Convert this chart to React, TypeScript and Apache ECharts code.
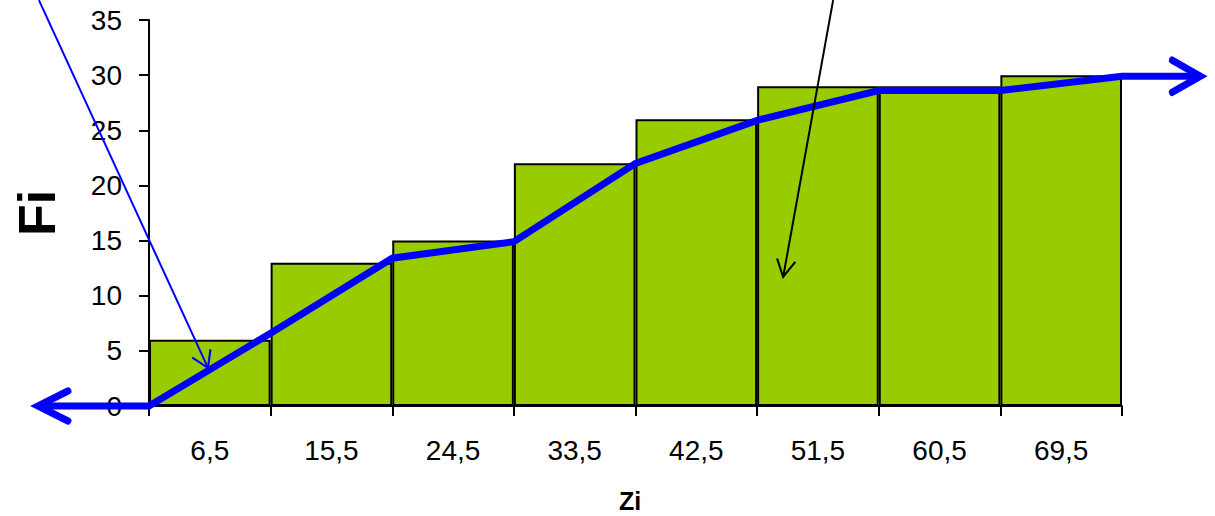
import React, { useEffect, useRef } from 'react';
import * as echarts from 'echarts';

// Class marks (x axis categories)
const categories = ['6,5', '15,5', '24,5', '33,5', '42,5', '51,5', '60,5', '69,5'];
// Cumulative absolute frequencies Fi (bars)
const frequencies = [6, 13, 15, 22, 26, 29, 29, 30];
// Ogive: positions of class boundaries (in class units) and cumulative values at them
const boundaryPositions = [0, 1, 2, 3, 4, 5, 6, 7, 8];
const ogiveValues = [0, 6.6, 13.4, 14.9, 22, 25.9, 28.6, 28.6, 29.9];
// Arrow extensions of the ogive (class units, Fi)
const leftArrowTip = [-0.913, 0];
const rightArrowTip = [8.643, 29.9];
// Annotation arrows (start, tip) in (class units, Fi)
const blueNote = [[-0.905, 36.8], [0.485, 3.45]];
const blackNote = [[5.625, 36.8], [5.214, 11.7]];
// Y axis ticks
const yMin = 0;
const yMax = 35;
const yStep = 5;

const CHEV_R = 'path://M0,0L10,10L0,20';
const CHEV_L = 'path://M10,0L0,10L10,20';

// layout
const W = 1215;
const H = 516;
const G_LEFT = 149;
const G_RIGHT = 93;
const G_TOP = 20;
const G_BOTTOM = 110;

export default function App() {
  const ref = useRef<HTMLDivElement>(null);
  useEffect(() => {
    if (!ref.current) return;
    const chart = echarts.init(ref.current, undefined, { renderer: 'svg' });
    const font = 'Arial, "Liberation Sans", sans-serif';

    // overlay grid spanning the whole canvas, with scales matching the main grid
    const pxPerClass = (W - G_LEFT - G_RIGHT) / categories.length;
    const pxPerUnit = (H - G_TOP - G_BOTTOM) / (yMax - yMin);
    const ovXMin = -G_LEFT / pxPerClass;
    const ovXMax = (W - G_LEFT) / pxPerClass;
    const ovYMax = yMin + (H - G_BOTTOM) / pxPerUnit;

    const ogiveData: any[] = [
      {
        value: leftArrowTip,
        symbol: CHEV_L,
        symbolSize: [30, 30],
        symbolOffset: [15, 0],
      },
      ...boundaryPositions.map((x, i) => ({ value: [x, ogiveValues[i]], symbol: 'none' })),
      {
        value: rightArrowTip,
        symbol: CHEV_R,
        symbolSize: [28, 32],
        symbolOffset: [-14, 0],
      },
    ];

    const blueData: any[] = [
      { value: blueNote[0], symbol: 'none' },
      {
        value: blueNote[1],
        symbol: CHEV_R,
        symbolSize: [16, 20],
        symbolRotate: -65.4,
        symbolOffset: [-3.3, -7.3],
      },
    ];
    const blackData: any[] = [
      { value: blackNote[0], symbol: 'none' },
      {
        value: blackNote[1],
        symbol: CHEV_R,
        symbolSize: [17, 18.5],
        symbolRotate: -100.2,
        symbolOffset: [1.5, -8.4],
      },
    ];

    chart.setOption({
      animation: false,
      backgroundColor: '#ffffff',
      grid: [
        {
          left: G_LEFT,
          right: G_RIGHT,
          top: G_TOP,
          bottom: G_BOTTOM,
          containLabel: false,
          outerBoundsMode: 'none',
        },
        {
          left: 0,
          right: 0,
          top: 0,
          bottom: G_BOTTOM,
          containLabel: false,
          outerBoundsMode: 'none',
        },
      ],
      xAxis: [
        {
          type: 'category',
          gridIndex: 0,
          data: categories,
          boundaryGap: true,
          axisLine: { show: true, lineStyle: { color: '#000', width: 2 } },
          axisTick: { show: true, length: 10, lineStyle: { color: '#000', width: 2 } },
          axisLabel: { color: '#000', fontSize: 28, fontFamily: font, margin: 30 },
          splitLine: { show: false },
          name: 'Zi',
          nameLocation: 'middle',
          nameGap: 82,
          nameTextStyle: {
            color: '#000',
            fontSize: 25,
            fontWeight: 'bold',
            fontFamily: font,
            padding: [0, 11, 0, 0],
          },
        },
        {
          type: 'value',
          gridIndex: 1,
          min: ovXMin,
          max: ovXMax,
          show: false,
        },
      ],
      yAxis: [
        {
          type: 'value',
          gridIndex: 0,
          min: yMin,
          max: yMax,
          interval: yStep,
          axisLine: { show: true, lineStyle: { color: '#000', width: 2 } },
          axisTick: { show: true, length: 10, lineStyle: { color: '#000', width: 2 } },
          axisLabel: { color: '#000', fontSize: 28, fontFamily: font, margin: 27 },
          splitLine: { show: false },
          name: 'Fi',
          nameLocation: 'middle',
          nameRotate: 90,
          nameGap: 86,
          nameTextStyle: { color: '#000', fontSize: 52, fontWeight: 'bold', fontFamily: font },
        },
        {
          type: 'value',
          gridIndex: 1,
          min: yMin,
          max: ovYMax,
          show: false,
        },
      ],
      series: [
        {
          type: 'bar',
          xAxisIndex: 0,
          yAxisIndex: 0,
          data: frequencies,
          barWidth: '100%',
          barCategoryGap: 0,
          itemStyle: { color: '#99CC00', borderColor: '#000', borderWidth: 2 },
          z: 2,
        },
        {
          type: 'line',
          xAxisIndex: 1,
          yAxisIndex: 1,
          data: ogiveData,
          clip: false,
          lineStyle: { color: '#0000FF', width: 7, join: 'miter' },
          itemStyle: {
            color: 'none',
            borderColor: '#0000FF',
            borderWidth: 7,
            borderCap: 'round',
            borderJoin: 'miter',
          },
          z: 4,
        },
        {
          type: 'line',
          xAxisIndex: 1,
          yAxisIndex: 1,
          data: blueData,
          clip: false,
          lineStyle: { color: '#0000FF', width: 2 },
          itemStyle: { color: 'none', borderColor: '#0000FF', borderWidth: 2 },
          z: 5,
        },
        {
          type: 'line',
          xAxisIndex: 1,
          yAxisIndex: 1,
          data: blackData,
          clip: false,
          lineStyle: { color: '#000000', width: 2 },
          itemStyle: { color: 'none', borderColor: '#000000', borderWidth: 2 },
          z: 5,
        },
      ],
    });
    return () => chart.dispose();
  }, []);
  return (
    <div
      ref={ref}
      style={{ position: 'fixed', left: 0, top: 0, width: W, height: H, background: '#fff' }}
    />
  );
}
